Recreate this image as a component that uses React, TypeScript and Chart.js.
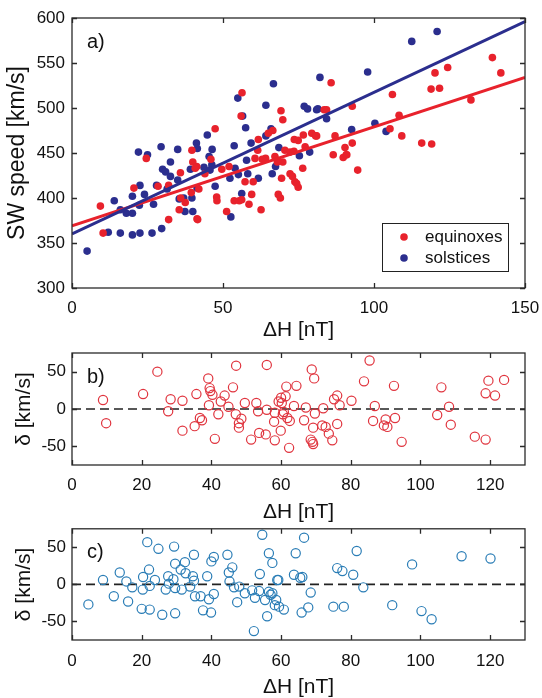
import React, { useEffect, useRef } from "react";
import { Chart, registerables } from "chart.js";
Chart.register(...registerables);

const FONT = "'Liberation Sans', Arial, Helvetica, sans-serif";

// ---------- Panel a: SW speed vs ΔH ----------
const equinoxes: [number, number][] = [
  [9.4, 391], [10.3, 361], [20.5, 411], [24.6, 444], [28.5, 413], [32, 376], [32, 414], [35.5, 387],
  [35.9, 428], [37.5, 395], [39.7, 453], [40, 440], [41.4, 377], [40.8, 433], [42, 410], [47.4, 477],
  [41.3, 435], [44, 427], [46, 443], [49.6, 432], [52, 435], [56.3, 517], [56, 491], [60.6, 444],
  [64.1, 444], [67.2, 446], [68, 440], [61.5, 453], [61.7, 465], [66.5, 475], [69.2, 497], [69.8, 487],
  [83.5, 498], [76.6, 470], [79.4, 472], [74.9, 464], [80.7, 469], [70.5, 453], [72.2, 451], [73.5, 452],
  [77.2, 457], [76.4, 433], [69.4, 422], [72.2, 427], [73, 424], [73.8, 418], [74.9, 412], [57.3, 418],
  [60, 418], [47.9, 401], [48, 397], [59.5, 404], [53.7, 397], [55.4, 397], [58.6, 393], [68.3, 404],
  [69, 400], [62.6, 387], [51.2, 385], [41.6, 376], [85.8, 528], [139.2, 556], [142, 539], [124.4, 545],
  [120.2, 539], [118.9, 521], [121.7, 522], [106.1, 515], [132.1, 509], [84.3, 498], [92.8, 502],
  [108.3, 492], [105.3, 477], [81, 469], [87.1, 469], [109.2, 469], [92.8, 461], [90.4, 456], [86.5, 448],
  [89.8, 445], [90.8, 448], [115.8, 461], [119.1, 460], [94.6, 431], [91, 448], [74.4, 416], [69.8, 440],
  [65, 472], [73.6, 465], [56.2, 398], [63, 443], [39.5, 406], [36, 400],
];
const solstices: [number, number][] = [
  [5, 341], [12, 362], [14, 397], [16, 361], [16, 387], [18, 383], [20, 359], [20, 383], [20, 402],
  [22.5, 361], [22.5, 414], [22.3, 392], [22, 451], [25, 448], [24, 404], [26.5, 361], [27, 393], [28, 414],
  [29.7, 366], [29.5, 457], [30, 432], [31, 429], [31.5, 410], [32.6, 440], [32.6, 424], [35, 454], [35, 420],
  [35.5, 399], [37, 400], [37.4, 385], [40, 385], [39.2, 432], [39.7, 400], [41.2, 461], [41.4, 411],
  [41.5, 455], [46.4, 454], [45.4, 446], [46.3, 437], [43.7, 434], [45.7, 431], [44.8, 470], [54, 433],
  [57.8, 442], [58.2, 427], [61.7, 422], [67.4, 435], [66.3, 427], [55.1, 426], [52.3, 422], [47.4, 413],
  [56.2, 405], [52.6, 379], [53.7, 458], [59.3, 461], [68.5, 456], [75.3, 447], [78.7, 451], [57.5, 478],
  [56.5, 491], [54.9, 511], [66.7, 527], [64.2, 503], [65.9, 477], [64.2, 469], [76.9, 502], [78, 499],
  [81, 498], [82.1, 534], [81.4, 499], [84.3, 488], [92.6, 476], [100.3, 483], [104, 474], [97.9, 540],
  [112.5, 574], [120.9, 585],
];
const fitX = [0, 150];
const equinoxFit = [369, 534];
const solsticeFit = [360, 596];
const speedTicks = [300, 350, 400, 450, 500, 550, 600];
const dhTicksA = [0, 50, 100, 150];

// ---------- Panels b, c: residuals δ vs ΔH ----------
const residEquinox: [number, number][] = [
  [8.9, 12], [9.8, -19], [20.4, 20], [24.5, 50], [27.6, -3], [28.3, 13], [31.7, -29], [31.7, 11],
  [35.2, -23], [35.7, 20], [36.7, -12], [37.3, -15], [39.1, 41], [39.5, 28], [39.7, 24], [39.3, 5],
  [40.3, 19], [41, -40], [42, -7], [42.7, 10], [43.8, 18], [44.9, 3], [46.2, 29], [47.1, 58], [47, -7],
  [47.9, -19], [47.9, -25], [48.6, -13], [49.6, 8], [51.4, -41], [52.9, 8], [53.4, -3], [53.7, -32],
  [55.9, 59], [55.9, -1], [55.6, -34], [58, -17], [58.2, -42], [59.3, 10], [58.2, -5], [60.2, 8],
  [60, 15], [61.5, 30], [61.3, 17], [60.8, -4], [60.5, -7], [61.8, -12], [62.5, -16], [59.9, -29],
  [62.3, -52], [64.4, 31], [63.7, 4], [66.6, -15], [67.1, 2], [68.8, 53], [69.5, 41], [69.7, -6],
  [69.2, -25], [68.5, -41], [69.2, -47], [69, -44], [71.8, -22], [72.8, -24], [72.1, 1], [73.7, -33],
  [74.7, -42], [75.2, 13], [76.1, 18], [76.8, 5], [76.1, -20], [80.2, 11], [83.8, 37], [85.4, 65],
  [86.4, -16], [86.9, 4], [90, -14], [90.5, -24], [89.5, -22], [92.7, -12], [92.4, 31], [94.6, -44],
  [104.8, -8], [106, 29], [108.2, 3], [108.7, -21], [115.6, -37], [118.7, -41], [118.7, 21], [121.4, 18],
  [119.5, 38], [124, 39],
];
const residSolstice: [number, number][] = [
  [4.7, -27], [8.9, 6], [12, -16], [13.7, 16], [15.6, 4], [16.1, -23], [17.3, -4], [20, -33], [20.4, 10],
  [20.3, -7], [21.6, 57], [22.1, 20], [22.3, -2], [22.3, -34], [23.8, 6], [24.8, 48], [25.9, -41],
  [26.9, -7], [27.6, 11], [27.8, 1], [29.3, 51], [29.6, -39], [29.1, 7], [29.6, 28], [29.6, -5],
  [31.2, 20], [31.5, -7], [32.4, 30], [32.6, 15], [33.9, -3], [34.7, 11], [35, 40], [35, 5], [35.3, -16],
  [36.9, -16], [37.6, -35], [38.8, 11], [39.3, -20], [39.9, -38], [40, 31], [40.7, 37], [40.7, -13],
  [44.6, 40], [45, 16], [46, 23], [45.2, 4], [46.5, -4], [47.4, -24], [48, -3], [49.6, -12], [52.2, -63],
  [52.5, -18], [53.9, 14], [54.6, 67], [56.5, 42], [57.5, 29], [56, -43], [55.4, -21], [57, -14],
  [57.5, -12], [58.2, -28], [58.9, 6], [59.4, -30], [60.8, -34], [56.5, -10], [58.6, -21], [66.6, 63],
  [64.2, 42], [59.2, 6], [63.7, 13], [65.5, 9], [66.1, 10], [68.5, -11], [67.8, -31], [65.9, -38],
  [75, -30], [78, -30], [76.1, 22], [77.6, 18], [80.7, 13], [81.7, 45], [83.6, -4], [91.9, -28],
  [97.6, 27], [100.3, -36], [103.2, -47], [111.8, 38], [120.1, 35], [51.7, -8], [53.7, -9],
];
const zeroX = [0, 130];
const zeroY = [0, 0];
const dhTicksBC = [0, 20, 40, 60, 80, 100, 120];
const deltaTicks = [-50, 0, 50];

const RED = "#e8222c";
const BLUE = "#2b2e8e";
const RED_O = "#e0343e";
const BLUE_O = "#2a7db6";

const toXY = (pts: [number, number][]) => pts.map(([x, y]) => ({ x, y }));
const pairXY = (xs: number[], ys: number[]) => xs.map((x, i) => ({ x, y: ys[i] }));

function boxPlugin(label: string, legend?: { text: string; color: string }[]) {
  return {
    id: "matlabBox",
    afterDraw(chart: any) {
      const { ctx, chartArea: a } = chart;
      const xs = chart.scales.x;
      const ys = chart.scales.y;
      const L = 5;
      ctx.save();
      ctx.strokeStyle = "#2a2a2a";
      ctx.lineWidth = 1.3;
      ctx.beginPath();
      xs.ticks.forEach((t: any) => {
        const p = Math.round(xs.getPixelForValue(t.value)) + 0.5;
        ctx.moveTo(p, a.bottom);
        ctx.lineTo(p, a.bottom - L);
        ctx.moveTo(p, a.top);
        ctx.lineTo(p, a.top + L);
      });
      ys.ticks.forEach((t: any) => {
        const p = Math.round(ys.getPixelForValue(t.value)) + 0.5;
        ctx.moveTo(a.left, p);
        ctx.lineTo(a.left + L, p);
        ctx.moveTo(a.right, p);
        ctx.lineTo(a.right - L, p);
      });
      ctx.stroke();
      ctx.strokeRect(a.left, a.top, a.right - a.left, a.bottom - a.top);
      ctx.fillStyle = "#111";
      ctx.font = `20px ${FONT}`;
      ctx.textAlign = "left";
      ctx.textBaseline = "middle";
      ctx.fillText(label, a.left + 15, a.top + 24);
      if (legend) {
        const w = 126, h = 48;
        const bx = a.right - 17 - w;
        const by = a.bottom - 17 - h;
        ctx.fillStyle = "#fff";
        ctx.fillRect(bx, by, w, h);
        ctx.lineWidth = 1;
        ctx.strokeStyle = "#222";
        ctx.strokeRect(bx + 0.5, by + 0.5, w, h);
        ctx.font = `17px ${FONT}`;
        legend.forEach((it, i) => {
          const cy = by + 14 + i * 21;
          ctx.fillStyle = it.color;
          ctx.beginPath();
          ctx.arc(bx + 22, cy, 3.8, 0, Math.PI * 2);
          ctx.fill();
          ctx.fillStyle = "#111";
          ctx.fillText(it.text, bx + 43, cy);
        });
      }
      ctx.restore();
    },
  };
}

function axis(min: number, max: number, ticks: number[], fit: (s: any) => void, title: any, pad: number) {
  return {
    type: "linear",
    min,
    max,
    afterBuildTicks: (s: any) => {
      s.ticks = ticks.map((v) => ({ value: v }));
    },
    afterFit: (s: any) => {
      fit(s);
      s.paddingLeft = 0;
      s.paddingRight = 0;
      s.paddingTop = 0;
      s.paddingBottom = 0;
    },
    grid: { display: false, drawTicks: false },
    border: { display: false },
    ticks: {
      autoSkip: false,
      maxRotation: 0,
      padding: pad,
      color: "#111",
      font: { family: FONT, size: 17 },
    },
    title,
  };
}

function buildA() {
  return {
    type: "scatter",
    data: {
      datasets: [
        {
          label: "solstices fit",
          data: pairXY(fitX, solsticeFit),
          showLine: true,
          borderColor: BLUE,
          borderWidth: 3,
          pointRadius: 0,
          order: 0,
        },
        {
          label: "equinoxes fit",
          data: pairXY(fitX, equinoxFit),
          showLine: true,
          borderColor: RED,
          borderWidth: 3,
          pointRadius: 0,
          order: 1,
        },
        {
          label: "equinoxes",
          data: toXY(equinoxes),
          backgroundColor: RED,
          borderWidth: 0,
          pointRadius: 3.8,
          order: 2,
        },
        {
          label: "solstices",
          data: toXY(solstices),
          backgroundColor: BLUE,
          borderWidth: 0,
          pointRadius: 3.8,
          order: 3,
        },
      ],
    },
    options: {
      responsive: false,
      animation: false,
      layout: { padding: { left: 0, right: 17, top: 18, bottom: 0 } },
      plugins: { legend: { display: false }, tooltip: { enabled: false } },
      scales: {
        x: axis(0, 150, dhTicksA, (s: any) => { s.height = 57; }, {
          display: true, text: "ΔH [nT]", color: "#111",
          font: { family: FONT, size: 21, lineHeight: 1 }, padding: { top: 0, bottom: 4 },
        }, 10),
        y: axis(300, 600, speedTicks, (s: any) => { s.width = 72; }, {
          display: true, text: "SW speed [km/s]", color: "#111",
          font: { family: FONT, size: 23, lineHeight: 1 }, padding: { top: 6, bottom: 0 },
        }, 7),
      },
    },
    plugins: [boxPlugin("a)", [
      { text: "equinoxes", color: RED },
      { text: "solstices", color: BLUE },
    ])],
  };
}

function buildResid(pts: [number, number][], color: string, label: string, padTop: number, tickPad: number, titlePad: number) {
  return {
    type: "scatter",
    data: {
      datasets: [
        {
          label: "zero",
          data: pairXY(zeroX, zeroY),
          showLine: true,
          borderColor: "#222",
          borderWidth: 1.6,
          borderDash: [9, 5],
          pointRadius: 0,
          order: 1,
        },
        {
          label: "residuals",
          data: toXY(pts),
          backgroundColor: "rgba(0,0,0,0)",
          borderColor: color,
          borderWidth: 1.2,
          pointRadius: 4.6,
          order: 0,
        },
      ],
    },
    options: {
      responsive: false,
      animation: false,
      layout: { padding: { left: 0, right: 17, top: padTop, bottom: 0 } },
      plugins: { legend: { display: false }, tooltip: { enabled: false } },
      scales: {
        x: axis(0, 130, dhTicksBC, (s: any) => { s.height = 58; }, {
          display: true, text: "ΔH [nT]", color: "#111",
          font: { family: FONT, size: 21, lineHeight: 1 }, padding: { top: 0, bottom: titlePad },
        }, tickPad),
        y: axis(-75, 75, deltaTicks, (s: any) => { s.width = 72; }, {
          display: true, text: "δ [km/s]", color: "#111",
          font: { family: FONT, size: 21, lineHeight: 1 }, padding: { top: 14, bottom: 0 },
        }, 6),
      },
    },
    plugins: [boxPlugin(label)],
  };
}

function ChartCanvas({ top, height, build }: { top: number; height: number; build: () => any }) {
  const ref = useRef<HTMLCanvasElement>(null);
  useEffect(() => {
    const chart = new Chart(ref.current as HTMLCanvasElement, build() as any);
    return () => chart.destroy();
  }, []);
  return (
    <div style={{ position: "absolute", left: 0, top, width: 542, height }}>
      <canvas ref={ref} width={542} height={height} style={{ display: "block", width: 542, height }} />
    </div>
  );
}

export default function App() {
  return (
    <div>
      <ChartCanvas top={0} height={345} build={buildA} />
      <ChartCanvas top={345} height={178} build={() => buildResid(residEquinox, RED_O, "b)", 8, 10, 0)} />
      <ChartCanvas top={523} height={175} build={() => buildResid(residSolstice, BLUE_O, "c)", 5, 11, 0)} />
    </div>
  );
}
